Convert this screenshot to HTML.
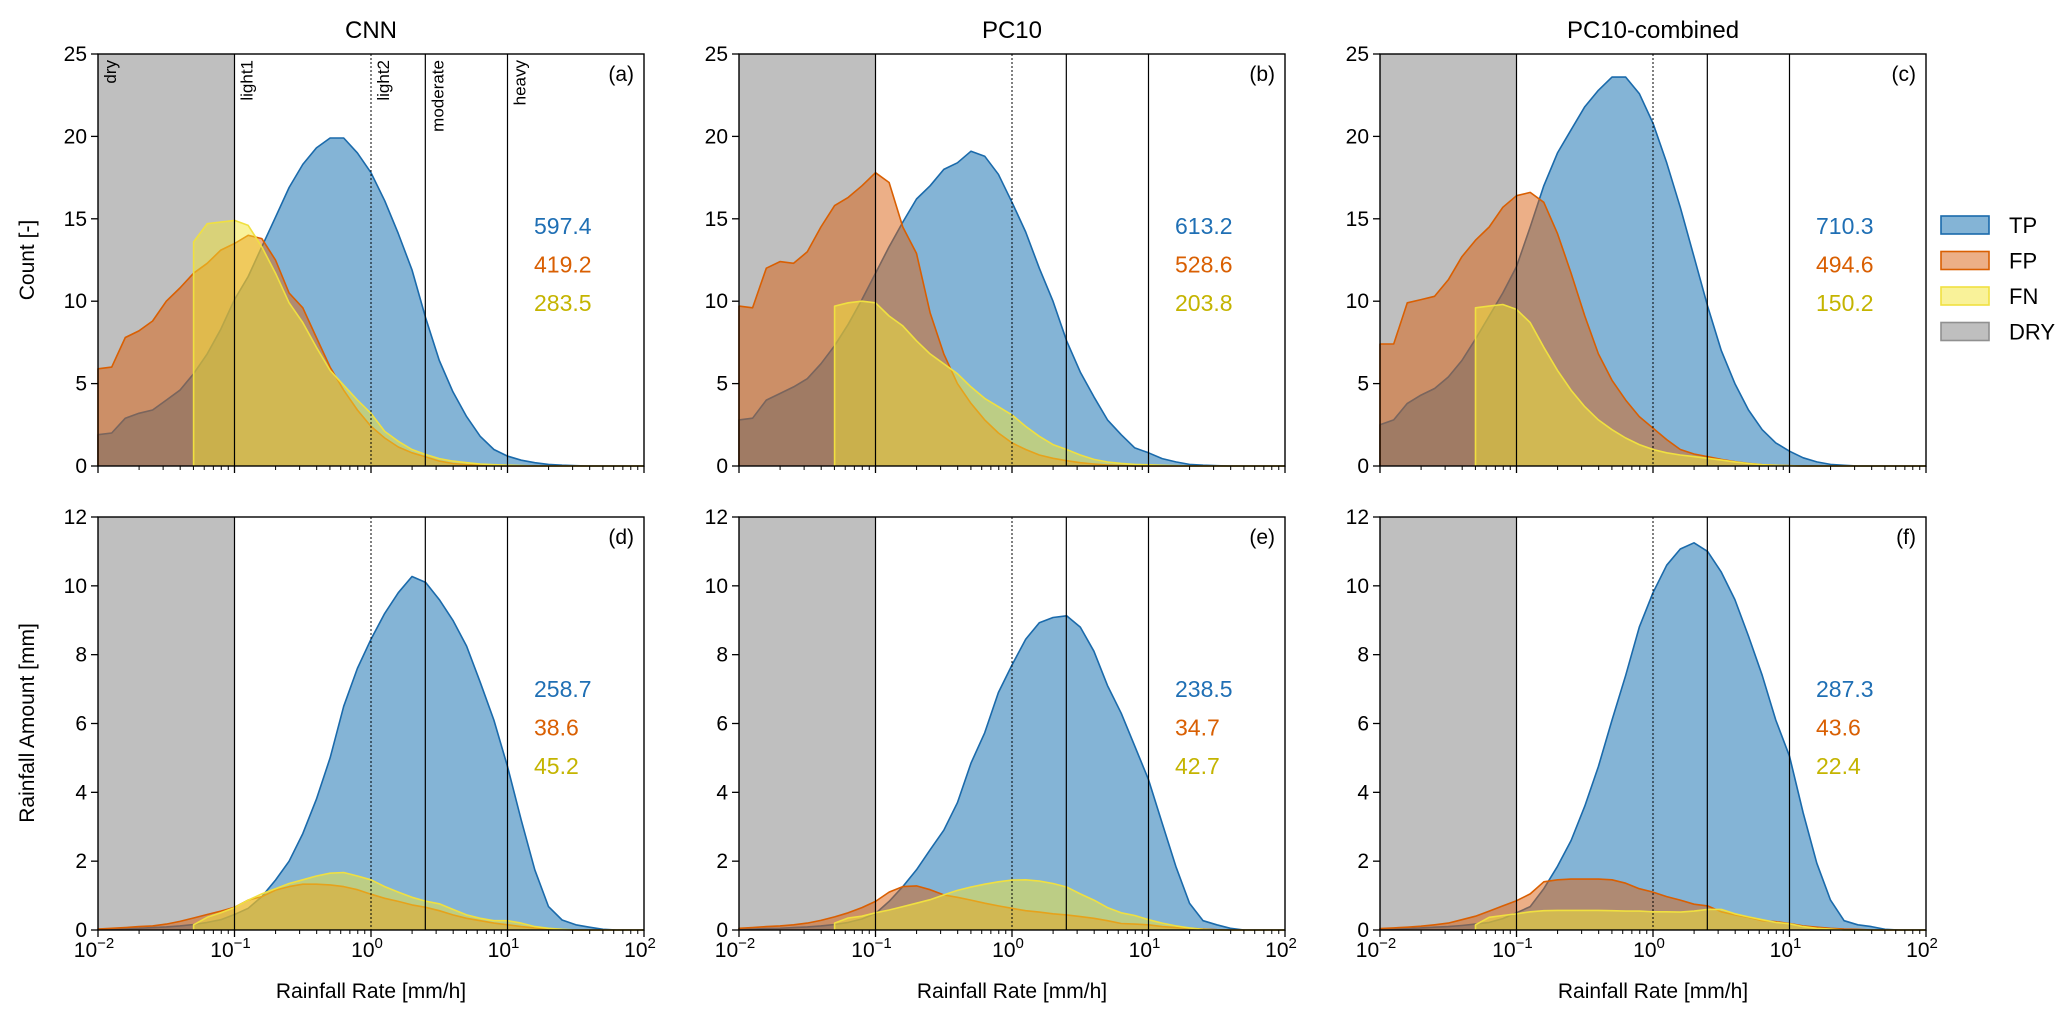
<!DOCTYPE html>
<html><head><meta charset="utf-8"><style>
body{margin:0;background:#fff;}
svg{display:block;font-family:"Liberation Sans","DejaVu Sans",sans-serif;}
</style></head><body>
<svg id="fig" width="2067" height="1020" viewBox="0 0 2067 1020" xmlns="http://www.w3.org/2000/svg"></svg>
<script>
// ---- data (x grid: log10 rainfall rate from -2 to 2, step 0.1) ----
const gridStart = -2, gridStep = 0.1;
const panelTitles = ["CNN", "PC10", "PC10-combined"];
const panelLetters = [["(a)","(b)","(c)"],["(d)","(e)","(f)"]];
const countTicks = [0,5,10,15,20,25];
const amountTicks = [0,2,4,6,8,10,12];
const xTickExps = [-2,-1,0,1,2];
const classLines = [0.1, 1, 2.5, 10];
const classNames = ["dry","light1","light2","moderate","heavy"];
const dryRange = [0.01, 0.1];
const seriesNames = ["TP","FP","FN","DRY"];

const countTotals = [["597.4","419.2","283.5"],["613.2","528.6","203.8"],["710.3","494.6","150.2"]];
const amountTotals = [["258.7","38.6","45.2"],["238.5","34.7","42.7"],["287.3","43.6","22.4"]];

const tpCountA = [1.9,2.0,2.9,3.2,3.4,4.0,4.6,5.6,6.8,8.3,10.1,11.5,13.3,15.1,16.9,18.3,19.3,19.9,19.9,19.0,17.8,16.1,14.1,11.9,9.0,6.4,4.5,3.0,1.8,1.0,0.6,0.35,0.2,0.1,0.05,0.02,0,0,0,0,0];
const fpCountA = [5.9,6.0,7.8,8.2,8.8,10.0,10.8,11.7,12.3,13.1,13.5,14.0,13.8,12.5,10.5,9.6,7.8,6.0,4.6,3.4,2.4,1.7,1.15,0.8,0.55,0.3,0.15,0.08,0.04,0.02,0,0,0,0,0,0,0,0,0,0,0];
const fnCountA = [null,null,null,null,null,null,null,13.6,14.7,14.8,14.9,14.6,13.3,11.7,9.9,8.7,7.2,5.8,4.9,4.0,3.2,2.1,1.5,1.0,0.7,0.45,0.3,0.2,0.12,0.08,0.05,0.03,0,0,0,0,0,0,0,0,0];

const tpCountB = [2.8,2.9,4.0,4.4,4.8,5.3,6.2,7.3,8.6,10.1,11.7,13.3,14.8,16.2,17.0,18.0,18.4,19.1,18.8,17.7,16.0,14.2,12.0,10.0,7.6,5.7,4.2,2.8,1.9,1.1,0.8,0.45,0.25,0.1,0.05,0.02,0,0,0,0,0];
const fpCountB = [9.7,9.6,12.0,12.4,12.3,13.0,14.5,15.8,16.3,17.0,17.8,17.2,14.5,12.9,9.3,6.8,5.0,3.8,2.8,2.0,1.4,1.0,0.67,0.47,0.32,0.2,0.12,0.06,0.03,0,0,0,0,0,0,0,0,0,0,0,0];
const fnCountB = [null,null,null,null,null,null,null,9.7,9.9,10.0,9.9,9.1,8.5,7.6,6.8,6.2,5.6,4.8,4.1,3.6,3.1,2.4,1.8,1.3,1.0,0.67,0.4,0.24,0.16,0.1,0.07,0.04,0.02,0,0,0,0,0,0,0,0];

const tpCountC = [2.5,2.8,3.8,4.3,4.7,5.4,6.4,7.7,9.1,10.5,12.1,14.5,17.0,19.0,20.4,21.8,22.8,23.6,23.6,22.6,20.8,18.4,15.7,12.7,9.7,7.0,5.0,3.4,2.2,1.4,0.9,0.5,0.25,0.1,0.04,0,0,0,0,0,0];
const fpCountC = [7.4,7.4,9.9,10.1,10.3,11.3,12.7,13.7,14.5,15.7,16.4,16.6,16.0,14.1,11.7,9.1,6.8,5.2,4.0,3.0,2.3,1.6,1.0,0.73,0.57,0.4,0.26,0.16,0.08,0.04,0.02,0,0,0,0,0,0,0,0,0,0];
const fnCountC = [null,null,null,null,null,null,null,9.6,9.7,9.8,9.5,8.7,7.2,5.8,4.6,3.6,2.8,2.2,1.7,1.3,1.0,0.8,0.67,0.57,0.47,0.36,0.25,0.15,0.08,0.04,0.02,0,0,0,0,0,0,0,0,0,0];

const tpAmountD = [0.02,0.03,0.04,0.05,0.07,0.09,0.12,0.16,0.22,0.3,0.45,0.63,0.97,1.45,2.0,2.8,3.8,5.0,6.5,7.6,8.45,9.2,9.8,10.27,10.1,9.6,9.0,8.25,7.2,6.1,4.75,3.2,1.75,0.68,0.29,0.15,0.08,0.02,0,0,0];
const fpAmountD = [0.03,0.05,0.07,0.1,0.12,0.17,0.25,0.35,0.45,0.55,0.66,0.87,0.97,1.16,1.26,1.33,1.33,1.31,1.26,1.17,1.04,0.92,0.83,0.73,0.66,0.56,0.44,0.34,0.27,0.2,0.15,0.1,0.06,0.03,0.01,0,0,0,0,0,0];
const fnAmountD = [null,null,null,null,null,null,null,0.15,0.37,0.5,0.65,0.87,1.05,1.2,1.35,1.46,1.57,1.65,1.67,1.57,1.46,1.26,1.1,0.95,0.84,0.76,0.6,0.44,0.34,0.27,0.27,0.2,0.1,0.05,0.02,0,0,0,0,0,0];

const tpAmountE = [0.02,0.03,0.04,0.05,0.07,0.09,0.12,0.16,0.22,0.32,0.48,0.83,1.26,1.75,2.33,2.9,3.7,4.85,5.73,6.9,7.7,8.45,8.93,9.08,9.13,8.8,8.1,7.1,6.3,5.34,4.37,3.1,1.85,0.78,0.27,0.15,0.05,0,0,0,0];
const fpAmountE = [0.05,0.07,0.1,0.12,0.15,0.2,0.28,0.38,0.5,0.65,0.83,1.1,1.26,1.28,1.17,1.02,0.95,0.87,0.78,0.7,0.63,0.56,0.52,0.47,0.44,0.39,0.34,0.27,0.19,0.17,0.15,0.1,0.07,0.05,0.03,0.01,0,0,0,0,0];
const fnAmountE = [null,null,null,null,null,null,null,0.2,0.35,0.4,0.5,0.58,0.68,0.78,0.88,1.02,1.15,1.25,1.33,1.4,1.45,1.46,1.42,1.35,1.25,1.05,0.87,0.65,0.5,0.42,0.3,0.2,0.12,0.06,0.02,0,0,0,0,0,0];

const tpAmountF = [0.02,0.03,0.04,0.06,0.08,0.1,0.13,0.17,0.22,0.33,0.5,0.68,1.2,1.85,2.6,3.6,4.75,6.1,7.4,8.8,9.8,10.6,11.07,11.25,11.0,10.4,9.6,8.54,7.4,6.1,5.05,3.4,1.94,0.87,0.27,0.15,0.1,0.02,0,0,0];
const fpAmountF = [0.04,0.06,0.08,0.11,0.15,0.2,0.3,0.4,0.55,0.7,0.85,1.05,1.4,1.46,1.48,1.48,1.48,1.46,1.36,1.2,1.1,0.97,0.87,0.75,0.7,0.53,0.44,0.37,0.27,0.24,0.19,0.12,0.08,0.05,0.03,0.02,0,0,0,0,0];
const fnAmountF = [null,null,null,null,null,null,null,0.15,0.37,0.42,0.47,0.53,0.56,0.57,0.57,0.57,0.57,0.56,0.55,0.55,0.53,0.53,0.52,0.55,0.6,0.6,0.47,0.38,0.3,0.22,0.18,0.1,0.05,0.03,0,0,0,0,0,0,0];

// ---- layout ----
const NS = "http://www.w3.org/2000/svg";
const svg = document.getElementById("fig");
const panelLefts = [98, 739, 1380];
const panelW = 546;
const rows = [{top:54, bottom:466, max:25, ticks:countTicks}, {top:517, bottom:930, max:12, ticks:amountTicks}];
const colors = {
  tpFill:"#1f77b4", tpLine:"#1a6aab", fpFill:"#d9600f", fpLine:"#d95f02",
  fnFill:"#f3e534", fnLine:"#f0e040", dry:"#808080",
  tpText:"#1f6fb4", fpText:"#d95f02", fnText:"#c4b400"
};
const allData = [
  [[tpCountA,fpCountA,fnCountA],[tpCountB,fpCountB,fnCountB],[tpCountC,fpCountC,fnCountC]],
  [[tpAmountD,fpAmountD,fnAmountD],[tpAmountE,fpAmountE,fnAmountE],[tpAmountF,fpAmountF,fnAmountF]]
];
const totals = [countTotals, amountTotals];

function mk(tag, attrs, parent){
  const e = document.createElementNS(NS, tag);
  for (const k in attrs) e.setAttribute(k, attrs[k]);
  (parent||svg).appendChild(e);
  return e;
}
function xScale(col, logv){ return panelLefts[col] + (logv + 2) / 4 * panelW; }
function yScale(row, v){ const r = rows[row]; return r.bottom - v / r.max * (r.bottom - r.top); }

function areaPaths(row, col, vals){
  let pts = [];
  let first = -1, last = -1;
  vals.forEach((v,i)=>{ if (v !== null){ if(first<0) first=i; last=i; pts.push([xScale(col, gridStart+i*gridStep), yScale(row, v)]); } });
  const x0 = xScale(col, gridStart+first*gridStep), x1 = xScale(col, gridStart+last*gridStep);
  const yb = yScale(row, 0);
  const lineD = "M" + x0.toFixed(1) + "," + yb + " L" + pts.map(p=>p[0].toFixed(1)+","+p[1].toFixed(1)).join(" L");
  const fillD = lineD + " L" + x1.toFixed(1) + "," + yb + " Z";
  return {lineD, fillD};
}

for (let row=0; row<2; row++){
  for (let col=0; col<3; col++){
    const g = mk("g", {});
    
    
    const R = rows[row];
    const L = panelLefts[col];
    // dry shading
    const dry = mk("rect", {x:xScale(col, Math.log10(dryRange[0])), y:R.top, width:xScale(col, Math.log10(dryRange[1]))-xScale(col, Math.log10(dryRange[0])), height:R.bottom-R.top, fill:colors.dry, "fill-opacity":0.5}, g);
    
    
    // series
    const specs = [["tp", colors.tpFill, colors.tpLine, 0.55], ["fp", colors.fpFill, colors.fpLine, 0.5], ["fn", colors.fnFill, colors.fnLine, 0.5]];
    specs.forEach((s, si)=>{
      const p = areaPaths(row, col, allData[row][col][si]);
      const f = mk("path", {d:p.fillD, fill:s[1], "fill-opacity":s[3], stroke:"none"}, g);
      
      
      const l = mk("path", {d:p.lineD, fill:"none", stroke:s[2], "stroke-width":1.6, "stroke-linejoin":"round"}, g);
      
      
    });
    // class lines
    classLines.forEach((c)=>{
      const x = xScale(col, Math.log10(c));
      const ln = mk("line", {x1:x, x2:x, y1:R.top, y2:R.bottom, stroke:"#000", "stroke-width":1.2}, g);
      if (c === 1) { ln.setAttribute("stroke-dasharray","2,2"); ln.setAttribute("stroke-width","1"); }
      
      
    });
    // frame
    const fr = mk("rect", {x:L, y:R.top, width:panelW, height:R.bottom-R.top, fill:"none", stroke:"#000", "stroke-width":1.4}, g);
    
    
    // x ticks
    for (let e=-2; e<=2; e++){
      const x = xScale(col, e);
      const t = mk("line", {x1:x, x2:x, y1:R.bottom, y2:R.bottom+7, stroke:"#000", "stroke-width":1.3}, g);
      
      
      if (e < 2) for (let m=2; m<=9; m++){
        const xm = xScale(col, e + Math.log10(m));
        const tm = mk("line", {x1:xm, x2:xm, y1:R.bottom, y2:R.bottom+4, stroke:"#000", "stroke-width":1}, g);
        
        
      }
    }
    if (row === 1){
      xTickExps.forEach((e)=>{
        const tx = mk("text", {x:xScale(col, e)-4, y:957, "font-size":21, "text-anchor":"middle", fill:"#000"}, g);
        
        
        tx.appendChild(document.createTextNode("10"));
        const sp = mk("tspan", {dy:-9, "font-size":15}, tx);
        sp.textContent = e < 0 ? "\u2212" + Math.abs(e) : String(e);
      });
      const xl = mk("text", {x:L+panelW/2, y:998, "font-size":21, "text-anchor":"middle"}, g);
      
      
      xl.textContent = "Rainfall Rate [mm/h]";
    }
    // y ticks
    R.ticks.forEach((v)=>{
      const y = yScale(row, v);
      const t = mk("line", {x1:L-7, x2:L, y1:y, y2:y, stroke:"#000", "stroke-width":1.3}, g);
      
      
      const tl = mk("text", {x:L-11, y:y+7, "font-size":21, "text-anchor":"end"}, g);
      
      
      tl.textContent = String(v);
    });
    // panel letter
    const pl = mk("text", {x:L+panelW-10, y:R.top+27, "font-size":21, "text-anchor":"end"}, g);
    
    
    pl.textContent = panelLetters[row][col];
    // totals
    const tc = [colors.tpText, colors.fpText, colors.fnText];
    totals[row][col].forEach((s, i)=>{
      const tt = mk("text", {x:L+panelW-110, y:R.top+180+i*38.5, "font-size":23, fill:tc[i]}, g);
      
      
      tt.textContent = s;
    });
    if (row === 0){
      const ti = mk("text", {x:L+panelW/2, y:38, "font-size":24, "text-anchor":"middle"}, g);
      
      
      ti.textContent = panelTitles[col];
    }
  }
}
// class labels in panel (a)
const classPos = [0.01, 0.1, 1, 2.5, 10];
classNames.forEach((n, i)=>{
  const x = xScale(0, Math.log10(classPos[i])) + 18;
  const ct = mk("text", {x:x, y:60, "font-size":17, "text-anchor":"end", transform:"rotate(-90 " + x + " 60)"});
  
  
  ct.textContent = n;
});
// y axis titles
const yt1 = mk("text", {x:34, y:260, "font-size":21, "text-anchor":"middle", transform:"rotate(-90 34 260)"});


yt1.textContent = "Count [-]";
const yt2 = mk("text", {x:34, y:723, "font-size":21, "text-anchor":"middle", transform:"rotate(-90 34 723)"});


yt2.textContent = "Rainfall Amount [mm]";
// legend
const legFill = [[colors.tpFill,0.55,colors.tpLine],[colors.fpFill,0.5,colors.fpLine],[colors.fnFill,0.5,colors.fnLine],[colors.dry,0.5,"#909090"]];
seriesNames.forEach((n, i)=>{
  const y = 225 + i*35.5;
  const b = mk("rect", {x:1941, y:y-9, width:48, height:18, fill:legFill[i][0], "fill-opacity":legFill[i][1], stroke:legFill[i][2], "stroke-width":1.6});
  
  
  const t = mk("text", {x:2009, y:y+8, "font-size":22});
  
  
  t.textContent = n;
});
</script>
</body></html>
